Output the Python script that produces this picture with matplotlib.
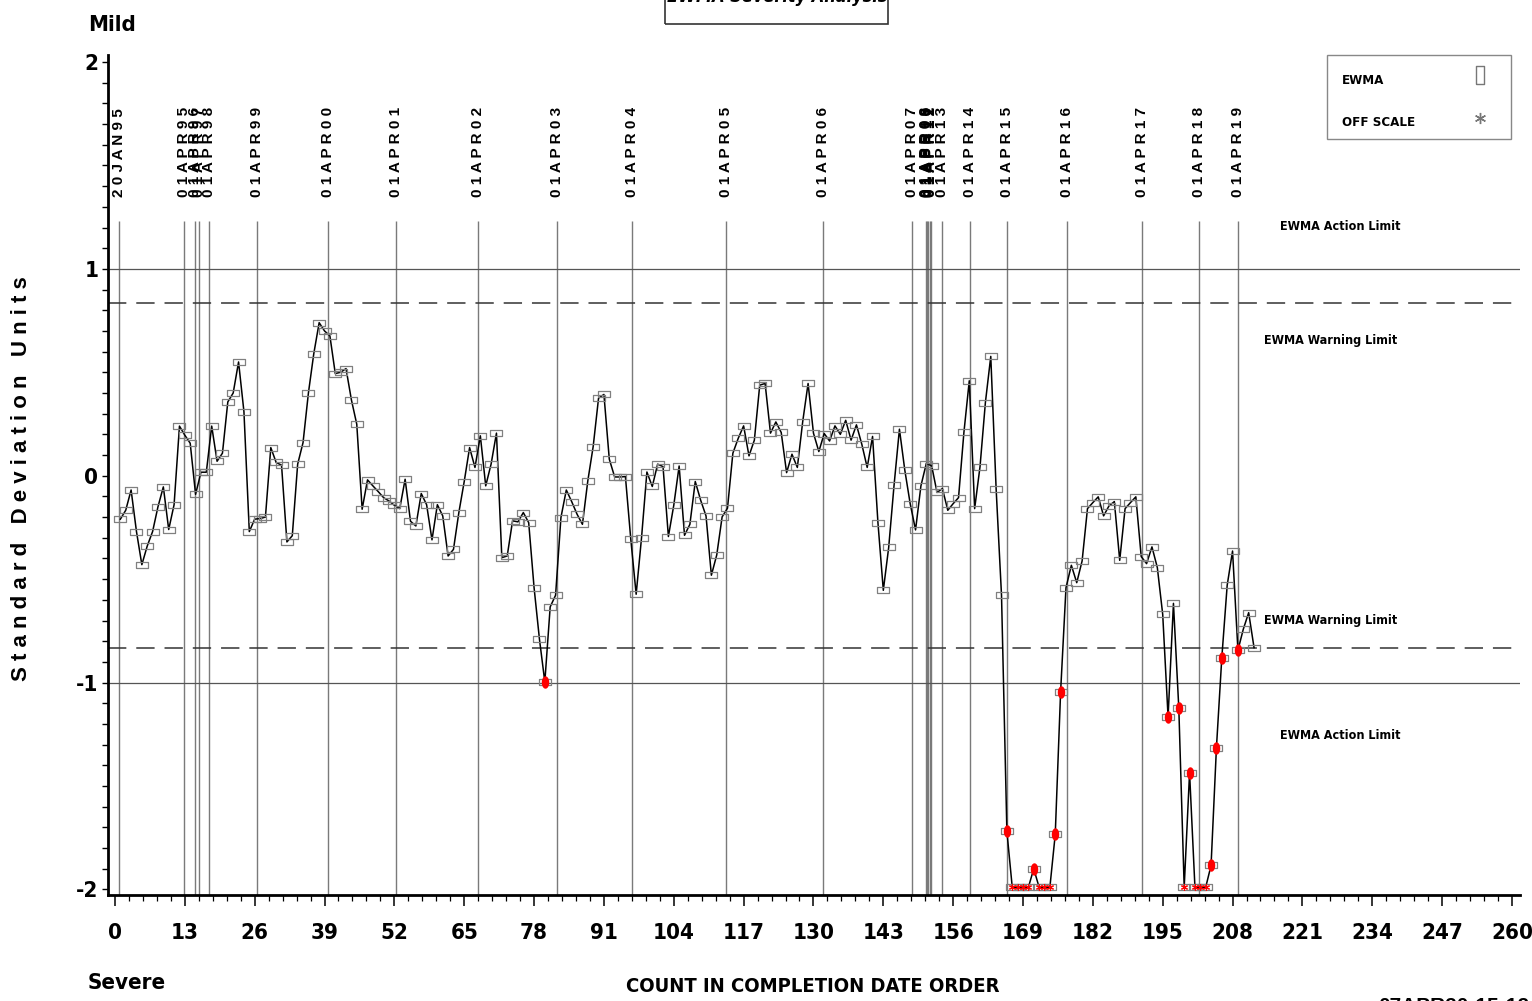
# EWMA severity chart: standard deviation units by count in completion date order.
import numpy as np
import matplotlib
matplotlib.use('Agg')
import matplotlib.pyplot as plt
from matplotlib.lines import Line2D
from matplotlib.patches import Rectangle

W, H = 1532, 1001
NARROW = ['DejaVu Sans']          # condensed face
WIDE = ['Liberation Sans', 'DejaVu Sans']

OFF = None          # point below the bottom of the scale

ewma = [
    -0.21, -0.167, -0.069, -0.27, -0.43, -0.34, -0.27, -0.15, -0.054, -0.26,
    -0.14, 0.24, 0.196, 0.157, -0.09, 0.017, 0.017, 0.24, 0.07, 0.109,
    0.357, 0.40, 0.55, 0.31, -0.27, -0.21, -0.207, -0.20, 0.136, 0.064,
    0.051, -0.32, -0.29, 0.056, 0.16, 0.40, 0.59, 0.74, 0.70, 0.676,
    0.494, 0.50, 0.518, 0.367, 0.249, -0.162, -0.02, -0.049, -0.077, -0.106,
    -0.122, -0.143, -0.159, -0.017, -0.22, -0.243, -0.086, -0.14, -0.31, -0.14,
    -0.194, -0.388, -0.356, -0.178, -0.028, 0.136, 0.04, 0.193, -0.049, 0.056,
    0.206, -0.396, -0.388, -0.218, -0.223, -0.178, -0.227, -0.541, -0.79, -0.997,
    -0.634, -0.578, -0.202, -0.069, -0.125, -0.186, -0.235, -0.025, 0.141, 0.375,
    0.393, 0.08, -0.006, -0.006, -0.004, -0.307, -0.573, -0.30, 0.018, -0.052,
    0.056, 0.044, -0.294, -0.143, 0.047, -0.288, -0.235, -0.028, -0.118, -0.194,
    -0.481, -0.383, -0.199, -0.157, 0.109, 0.181, 0.241, 0.096, 0.172, 0.438,
    0.446, 0.206, 0.26, 0.209, 0.015, 0.104, 0.04, 0.262, 0.446, 0.206,
    0.117, 0.204, 0.168, 0.241, 0.20, 0.268, 0.172, 0.246, 0.152, 0.04,
    0.19, -0.227, -0.554, -0.347, -0.046, 0.225, 0.027, -0.135, -0.262, -0.049,
    0.059, 0.048, -0.081, -0.062, -0.167, -0.135, -0.106, 0.209, 0.459, -0.159,
    0.044, 0.354, 0.577, -0.065, -0.578, -1.72, OFF, OFF, OFF, OFF,
    -1.90, OFF, OFF, OFF, -1.734, -1.044, -0.541, -0.433, -0.517, -0.412,
    -0.159, -0.13, -0.102, -0.194, -0.146, -0.125, -0.409, -0.159, -0.13, -0.102,
    -0.391, -0.425, -0.344, -0.444, -0.67, -1.166, -0.617, -1.125, OFF, -1.436,
    OFF, OFF, OFF, -1.884, -1.315, -0.88, -0.53, -0.364, -0.844, -0.742,
    -0.662, -0.831,
]

date_labels = ['20JAN95', '01APR95', '01APR96', '01APR97', '01APR98', '01APR99',
               '01APR00', '01APR01', '01APR02', '01APR03', '01APR04', '01APR05',
               '01APR06', '01APR07', '01APR08', '01APR09', '01APR10', '01APR11',
               '01APR12', '01APR13', '01APR14', '01APR15', '01APR16', '01APR17',
               '01APR18', '01APR19']
date_pos = [0.8, 12.8, 14.9, 15.6, 17.5, 26.4,
            39.6, 52.3, 67.6, 82.3, 96.2, 113.7,
            131.8, 148.3, 150.9, 151.15, 151.4, 151.65,
            151.9, 153.9, 159.2, 166.0, 177.2, 191.1,
            201.7, 209.0]

action_limit = 1.0
warning_limit = 0.835
floor = -1.99

x_ticks = np.arange(0, 261, 13)
y_ticks = [-2, -1, 0, 1, 2]
y_ticklabels = ['-2', '-1', '0', '1', '2']


def fx(px):
    return px / W


def fy(py):
    return 1 - py / H


def narrow(size):
    return dict(family=NARROW, fontweight='bold', fontstretch='condensed',
                fontsize=size)


count = np.arange(1, len(ewma) + 1)
y = np.array([np.nan if v is None else v for v in ewma])
off = np.isnan(y)
yplot = np.where(off, floor, y)
low = (~off) & (y < -warning_limit)

fig = plt.figure(figsize=(W / 100, H / 100), dpi=100)
ax = fig.add_axes([fx(108), fy(895), fx(1520) - fx(108), (895 - 55) / H])
ax.set_xlim(-1.3, 261.5)
ax.set_ylim(-2.027, 2.034)

# reference lines
ax.vlines(date_pos, -2.027, 1.231, color='#7a7a7a', lw=1.0, zorder=1)
for v in (action_limit, -action_limit):
    ax.axhline(v, color='#555555', lw=0.9, zorder=1)
for v in (warning_limit, -warning_limit):
    ax.axhline(v, color='#333333', lw=1.1, dashes=(12, 6.5), zorder=1)

for pos, lab in zip(date_pos, date_labels):
    ax.text(pos, 1.347, ' '.join(lab), rotation=90, ha='center', va='bottom',
            fontsize=11, fontweight='bold', family=WIDE)

# series
box = [(-1, -0.45), (1, -0.45), (1, 0.45), (-1, 0.45), (-1, -0.45)]
blob = [(0.6 * np.cos(t), np.sin(t)) for t in np.linspace(0, 2 * np.pi, 25)]
ax.plot(count, yplot, color='black', lw=1.1, zorder=3)
ax.plot(count, yplot, ls='none', marker=box, ms=8.6, mfc='none',
        mec='#808080', mew=0.9, zorder=4)
ax.plot(count[low], y[low], ls='none', marker=blob, ms=9, color='red',
        mew=0, zorder=5)
ax.plot(count[off], yplot[off], ls='none', marker=(6, 2, 0), ms=5,
        color='red', mew=0.8, zorder=5)

# limit labels
ax.text(228, 1.207, 'EWMA Action Limit', ha='center', va='center', **narrow(9))
ax.text(226.3, 0.655, 'EWMA Warning Limit', ha='center', va='center', **narrow(9))
ax.text(226.3, -0.699, 'EWMA Warning Limit', ha='center', va='center', **narrow(9))
ax.text(228, -1.255, 'EWMA Action Limit', ha='center', va='center', **narrow(9))

# axes styling
for s in ('top', 'right'):
    ax.spines[s].set_visible(False)
for s in ('left', 'bottom'):
    ax.spines[s].set_linewidth(2)
ax.set_xticks(x_ticks)
ax.set_xticks(np.arange(0, 261, 2.6), minor=True)
ax.set_yticks(y_ticks)
ax.set_yticklabels(y_ticklabels)
ax.set_yticks(np.arange(-2, 2.01, 0.1), minor=True)
ax.tick_params(axis='x', which='major', length=8, width=1.1, pad=12)
ax.tick_params(axis='x', which='minor', length=4, width=0.9)
ax.tick_params(axis='y', which='both', length=4, width=1.0, pad=3)
for lab in ax.get_xticklabels() + ax.get_yticklabels():
    lab.set_family(NARROW)
    lab.set_fontweight('bold')
    lab.set_fontstretch('condensed')
    lab.set_fontsize(16)

# figure texts
fig.text(fx(22), fy(479), 'S t a n d a r d   D e v i a t i o n   U n i t s',
         rotation=90, ha='center', va='center', fontsize=16, fontweight='bold',
         family=WIDE)
fig.text(fx(88), fy(25), 'Mild', ha='left', va='center', **narrow(16))
fig.text(fx(88), fy(983), 'Severe', ha='left', va='center', **narrow(16))
fig.text(fx(813), fy(987), 'COUNT IN COMPLETION DATE ORDER', ha='center',
         va='center', **narrow(14.5))
fig.text(fx(1378), fy(997), '07APR20:15:12', ha='left', va='top', fontsize=15,
         fontweight='bold', family=WIDE)

# title box, mostly above the page
fig.add_artist(Rectangle((fx(665), fy(24)), fx(888) - fx(665), 0.1,
                         transform=fig.transFigure, fill=False, ec='#333333', lw=1.2))
fig.text(fx(777), fy(2), 'EWMA Severity Analysis', ha='center', va='baseline',
         style='italic', **narrow(13))

# legend
fig.add_artist(Rectangle((fx(1327), fy(139)), fx(1511) - fx(1327), (139 - 55) / H,
                         transform=fig.transFigure, fill=False, ec='#888888', lw=1))
fig.text(fx(1342), fy(81), 'EWMA', ha='left', va='center', **narrow(9.5))
fig.text(fx(1342), fy(123), 'OFF SCALE', ha='left', va='center', **narrow(9.5))
tall_box = [(-0.45, -1), (0.45, -1), (0.45, 1), (-0.45, 1), (-0.45, -1)]
fig.add_artist(Line2D([fx(1480)], [fy(75)], marker=tall_box, ms=13, mfc='none',
                      mec='#777777', mew=1, transform=fig.transFigure))
fig.add_artist(Line2D([fx(1480)], [fy(118)], marker=(6, 2, 0), ms=8,
                      color='#777777', mew=1, transform=fig.transFigure))

fig.savefig('out.png', dpi=100)
